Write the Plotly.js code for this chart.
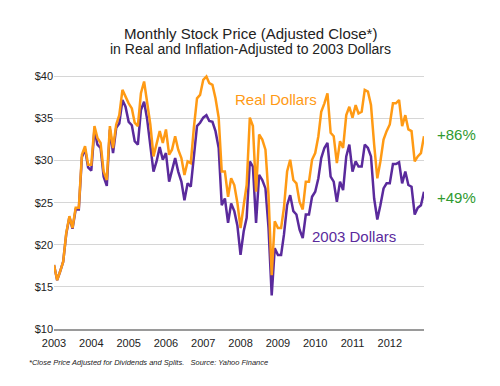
<!DOCTYPE html>
<html>
<head>
<meta charset="utf-8">
<script src="https://cdn.plot.ly/plotly-3.0.1.min.js"></script>
<style>html,body{margin:0;padding:0;background:#fff;}#chart{width:500px;height:386px;}</style>
</head>
<body>
<div id="chart"></div>
<script>
// Monthly values, Jan 2003 .. Dec 2012
const startYear = 2003;
const realDollars = [17.6,15.8,16.8,18.0,21.4,23.4,22.0,24.4,24.4,30.7,31.7,29.5,
29.5,34.1,32.7,32.1,28.7,27.7,34.1,31.5,34.3,35.4,38.4,37.6,
36.8,36.2,34.5,34.1,38.0,39.4,37.0,34.3,30.5,31.9,33.5,32.1,
33.7,30.7,31.3,32.9,31.3,30.3,28.3,29.9,29.7,33.9,37.4,37.8,
39.6,40.0,39.2,39.0,37.4,35.1,28.7,28.7,25.7,27.9,27.1,25.0,
22.0,24.7,27.1,35.1,34.1,26.3,33.1,32.5,31.3,25.9,16.4,22.8,
22.0,22.0,24.4,28.7,30.1,27.7,27.3,25.1,24.2,27.5,27.5,30.1,
30.9,32.9,35.8,36.8,38.0,33.3,32.9,29.7,32.3,31.5,35.4,36.4,
35.1,36.6,35.6,35.8,38.4,38.2,36.6,31.9,27.9,29.9,32.5,33.5,
34.3,36.8,36.8,37.2,34.1,35.4,33.7,33.5,29.9,30.5,30.9,32.9];
const dollars2003 = [17.6,15.8,16.8,18.0,21.3,23.3,21.9,24.2,24.2,30.4,31.4,29.2,
28.8,33.7,31.9,31.5,28.1,27.0,33.7,30.9,33.9,34.4,37.2,36.4,
34.6,34.2,32.3,31.9,36.0,37.0,34.9,32.1,28.7,29.9,31.6,30.1,
30.9,27.5,28.7,30.3,28.7,27.5,25.3,27.3,26.9,30.7,34.1,34.5,
35.1,35.4,34.7,34.6,33.5,31.5,24.7,25.5,22.6,24.9,24.0,22.3,
18.8,21.6,23.2,29.9,29.3,22.6,28.3,27.7,26.7,22.0,14.0,19.6,
18.8,18.8,21.2,24.7,25.9,24.0,23.6,21.8,20.8,23.6,23.6,25.7,
26.3,27.9,30.3,31.5,32.1,28.1,27.5,25.1,27.5,26.5,30.5,31.9,
28.7,29.9,29.3,29.3,31.9,31.5,30.5,25.5,23.0,24.7,26.7,27.3,
27.3,29.6,29.6,29.8,27.3,28.7,27.1,26.9,23.6,24.4,24.7,26.3];
const yearLabels = ['2003','2004','2005','2006','2007','2008','2009','2010','2011','2012'];
const yTickVals = [10,15,20,25,30,35,40];
const yTickText = ['$10','$15','$20','$25','$30','$35','$40'];
const realChange = '+86%';
const adjChange = '+49%';

const months = realDollars.map((_, i) => {
  const y = startYear + Math.floor(i / 12);
  const m = (i % 12) + 1;
  return y + '-' + String(m).padStart(2, '0') + '-01';
});
const yearTicks = yearLabels.map(y => y + '-01-01');

const ORANGE = '#FF9A14';
const PURPLE = '#5A2A9C';
const GREEN = '#2F9A2F';
const FONT = 'Liberation Sans, Arial, Helvetica, sans-serif';

const traces = [
  {x: months, y: dollars2003, type: 'scatter', mode: 'lines', name: '2003 Dollars',
   line: {color: PURPLE, width: 2.5}, hoverinfo: 'skip'},
  {x: months, y: realDollars, type: 'scatter', mode: 'lines', name: 'Real Dollars',
   line: {color: ORANGE, width: 2.5}, hoverinfo: 'skip'}
];

const layout = {
  width: 500, height: 386,
  margin: {l: 54, r: 76, t: 68, b: 57},
  paper_bgcolor: '#fff', plot_bgcolor: '#fff',
  showlegend: false,
  font: {family: FONT, color: '#222', size: 11},
  xaxis: {
    type: 'date',
    range: [months[0], months[months.length - 1]],
    tickvals: yearTicks, ticktext: yearLabels,
    showgrid: false, zeroline: false,
    showline: true, linecolor: '#9a9a9a', linewidth: 2,
    ticks: '', ticklabelstandoff: 3, tickfont: {size: 11, color: '#222'},
    fixedrange: true
  },
  yaxis: {
    range: [10, 41],
    tickvals: yTickVals, ticktext: yTickText,
    showgrid: true, gridcolor: '#d6d6d6', gridwidth: 1,
    zeroline: false, showline: false,
    ticks: '', tickfont: {size: 11, color: '#222'},
    fixedrange: true
  },
  annotations: [
    {text: 'Monthly Stock Price (Adjusted Close*)', xref: 'paper', yref: 'paper',
     x: 0.53, y: 1.134, xanchor: 'center', yanchor: 'middle', showarrow: false,
     font: {size: 15, color: '#222', family: FONT}},
    {text: 'in Real and Inflation-Adjusted to 2003 Dollars', xref: 'paper', yref: 'paper',
     x: 0.53, y: 1.071, xanchor: 'center', yanchor: 'middle', showarrow: false,
     font: {size: 14, color: '#222', family: FONT}},
    {text: 'Real Dollars', xref: 'paper', yref: 'paper',
     x: 0.6, y: 0.881, xanchor: 'center', yanchor: 'middle', showarrow: false,
     font: {size: 15, color: ORANGE, family: FONT}},
    {text: '2003 Dollars', xref: 'paper', yref: 'paper',
     x: 0.811, y: 0.356, xanchor: 'center', yanchor: 'middle', showarrow: false,
     font: {size: 15, color: PURPLE, family: FONT}},
    {text: realChange, xref: 'paper', yref: 'paper',
     x: 1.03, y: 0.747, xanchor: 'left', yanchor: 'middle', showarrow: false,
     font: {size: 15, color: GREEN, family: FONT}},
    {text: adjChange, xref: 'paper', yref: 'paper',
     x: 1.03, y: 0.502, xanchor: 'left', yanchor: 'middle', showarrow: false,
     font: {size: 15, color: GREEN, family: FONT}},
    {text: '<i>*Close Price Adjusted for Dividends and Splits.   Source: Yahoo Finance</i>',
     xref: 'paper', yref: 'paper',
     x: -0.073, y: -0.130, xanchor: 'left', yanchor: 'middle', showarrow: false,
     font: {size: 7.5, color: '#222', family: FONT}}
  ]
};

Plotly.newPlot('chart', traces, layout, {staticPlot: true, displayModeBar: false});
</script>
</body>
</html>
